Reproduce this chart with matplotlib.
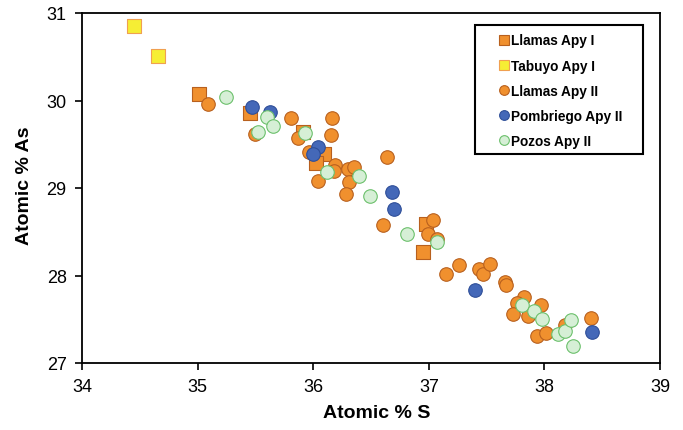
import matplotlib
matplotlib.use('Agg')
import matplotlib.pyplot as plt
from matplotlib.lines import Line2D
from matplotlib.patches import Rectangle

plt.rcParams['font.family'] = ['Liberation Sans', 'DejaVu Sans']

# ---- data (Atomic % S, Atomic % As) ----
llamas1_s = [35.01, 35.45, 35.91, 36.09, 36.02, 36.98, 36.95]
llamas1_as = [30.07, 29.86, 29.64, 29.39, 29.29, 28.59, 28.27]

tabuyo1_s = [34.45, 34.66]
tabuyo1_as = [30.85, 30.51]

llamas2_s = [35.09, 35.50, 35.81, 36.16, 36.15, 35.87, 35.96, 36.19, 36.04, 36.18,
             36.30, 36.35, 36.31, 36.28, 36.64, 36.60, 37.04, 36.99, 37.07, 37.15,
             37.26, 37.43, 37.47, 37.53, 37.66, 37.67, 37.82, 37.76, 37.73, 37.86,
             37.97, 37.94, 38.01, 38.18, 38.40]
llamas2_as = [29.96, 29.62, 29.80, 29.80, 29.61, 29.57, 29.41, 29.26, 29.08, 29.20,
              29.22, 29.24, 29.07, 28.93, 29.35, 28.58, 28.64, 28.47, 28.42, 28.02,
              28.12, 28.08, 28.02, 28.13, 27.93, 27.89, 27.75, 27.69, 27.56, 27.54,
              27.66, 27.31, 27.34, 27.43, 27.51]

pombriego2_s = [35.47, 35.63, 36.04, 36.00, 36.68, 36.70, 37.40, 38.41]
pombriego2_as = [29.93, 29.87, 29.47, 29.39, 28.95, 28.76, 27.83, 27.36]

pozos2_s = [35.25, 35.60, 35.65, 35.52, 35.93, 36.12, 36.40, 36.49, 36.81, 37.07,
            37.81, 37.91, 37.98, 38.12, 38.18, 38.23, 38.25]
pozos2_as = [30.04, 29.81, 29.71, 29.64, 29.63, 29.18, 29.14, 28.91, 28.47, 28.38,
             27.66, 27.60, 27.50, 27.33, 27.37, 27.49, 27.20]

series_names = ['Llamas Apy I', 'Tabuyo Apy I', 'Llamas Apy II', 'Pombriego Apy II', 'Pozos Apy II']
x_ticks = [34, 35, 36, 37, 38, 39]
y_ticks = [27, 28, 29, 30, 31]

# ---- styles ----
styles = [
    dict(marker='s', fc='#F0902E', ec='#B8601E'),
    dict(marker='s', fc='#F6EE34', ec='#F0A050'),
    dict(marker='o', fc='#F0902E', ec='#B8601E'),
    dict(marker='o', fc='#4468B8', ec='#2E4E98'),
    dict(marker='o', fc='#D6EFD6', ec='#6CC06C'),
]
data = [(llamas1_s, llamas1_as), (tabuyo1_s, tabuyo1_as), (llamas2_s, llamas2_as),
        (pombriego2_s, pombriego2_as), (pozos2_s, pozos2_as)]

fig = plt.figure(figsize=(6.83, 4.31), dpi=100)
ax = fig.add_axes([82 / 683, 1 - 364 / 431, (660 - 82) / 683, (364 - 14) / 431])

for (xs, ys), st, name in zip(data, styles, series_names):
    ax.scatter(xs, ys, s=95, marker=st['marker'], facecolor=st['fc'],
               edgecolor=st['ec'], linewidth=0.8, label=name)

ax.set_xlim(34, 39)
ax.set_ylim(27, 31)
ax.set_xticks(x_ticks)
ax.set_yticks(y_ticks)
ax.tick_params(direction='out', length=5, width=1.2, labelsize=13, pad=6)
for sp in ax.spines.values():
    sp.set_linewidth(1.3)

ax.set_xlabel('Atomic % S', fontsize=14, fontweight='bold')
ax.set_ylabel('Atomic % As', fontsize=14, fontweight='bold')
ax.xaxis.label.set_va('center')
ax.yaxis.label.set_va('center')
ax.xaxis.set_label_coords((377 - 82) / 578, (364 - 414) / 350)
ax.yaxis.set_label_coords((24 - 82) / 578, (364 - 186) / 350)

handles = [Line2D([], [], linestyle='none', marker=st['marker'], markersize=7,
                  markerfacecolor=st['fc'], markeredgecolor=st['ec'], markeredgewidth=0.8)
           for st in styles]
leg = fig.legend(handles, series_names, loc='upper left',
                 bbox_to_anchor=(497 / 683, 1 - 34.5 / 431), bbox_transform=fig.transFigure,
                 frameon=False, borderpad=0, borderaxespad=0, handlelength=1.0,
                 handletextpad=0.05, labelspacing=0.82, prop=dict(weight='bold', size=9.8))
fig.add_artist(Rectangle((475 / 683, 1 - 155 / 431), 168 / 683, 129 / 431,
                         transform=fig.transFigure, fill=False, lw=1.5, ec='black'))

fig.savefig('out.png', dpi=100)
